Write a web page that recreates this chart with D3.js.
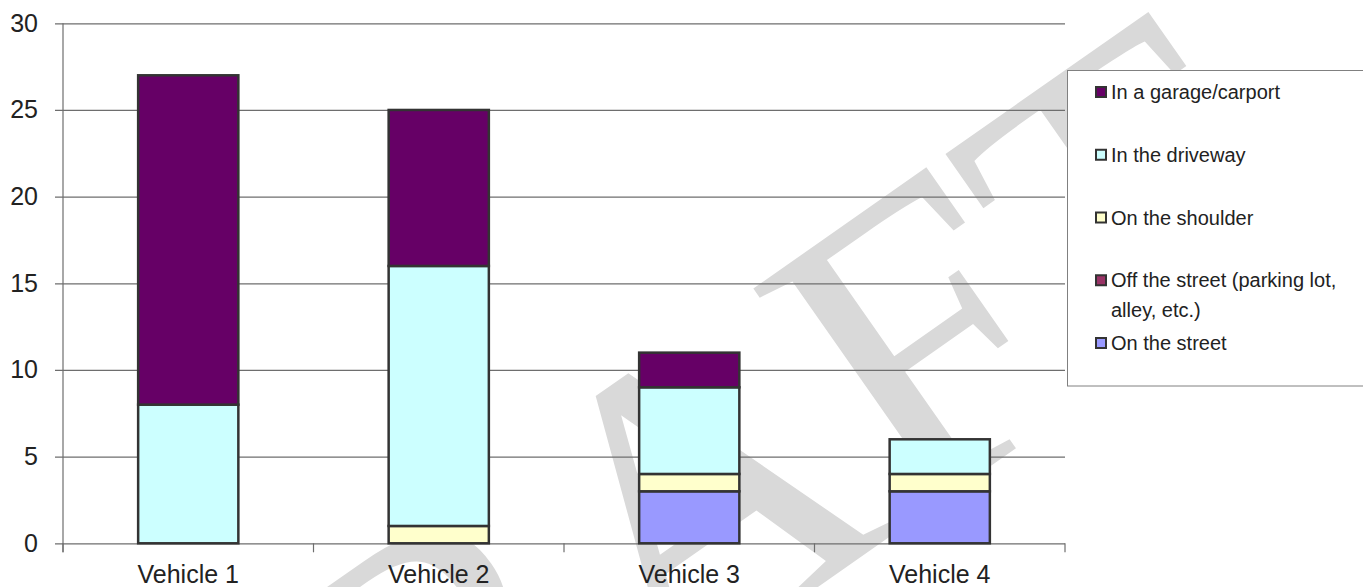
<!DOCTYPE html>
<html>
<head>
<meta charset="utf-8">
<script src="https://cdn.jsdelivr.net/npm/d3@7"></script>
<style>
  html, body { margin: 0; padding: 0; background: #fff; }
  svg { display: block; font-family: "Liberation Sans", Arial, sans-serif; }
</style>
</head>
<body>
<div id="chart"></div>
<script>
// ── Data ───────────────────────────────────────────────────────────────────
const categories = ["Vehicle 1", "Vehicle 2", "Vehicle 3", "Vehicle 4"];
// stacked bottom → top
const seriesNames = [
  "On the street",
  "Off the street (parking lot, alley, etc.)",
  "On the shoulder",
  "In the driveway",
  "In a garage/carport",
];
const onStreet   = [0, 0, 3, 3];
const offStreet  = [0, 0, 0, 0];
const onShoulder = [0, 1, 1, 1];
const inDriveway = [8, 15, 5, 2];
const inGarage   = [19, 9, 2, 0];
const yTicks = [0, 5, 10, 15, 20, 25, 30];

const seriesColors = ["#9999ff", "#993366", "#ffffcc", "#ccffff", "#660066"];
const legendLines = [
  ["In a garage/carport"],
  ["In the driveway"],
  ["On the shoulder"],
  ["Off the street (parking lot,", "alley, etc.)"],
  ["On the street"],
];

// ── Layout ─────────────────────────────────────────────────────────────────
const W = 1363, H = 587;
const plot = { left: 63, right: 1065, top: 23.3, bottom: 543.3 };

const svg = d3.select("#chart").append("svg")
  .attr("width", W)
  .attr("height", H);

// watermark, behind everything
svg.append("text")
  .attr("transform", "translate(161,1047) rotate(-35)")
  .attr("font-family", "'Liberation Serif', 'Times New Roman', serif")
  .attr("font-size", 430)
  .attr("fill", "#d9d9d9")
  .text("DRAFT");

const x = d3.scaleBand()
  .domain(categories)
  .range([plot.left, plot.right])
  .paddingInner(0.6)
  .paddingOuter(0.3);

const y = d3.scaleLinear()
  .domain([0, 30])
  .range([plot.bottom, plot.top]);

// ── Grid + y labels ────────────────────────────────────────────────────────
const gy = svg.append("g")
  .attr("transform", `translate(${plot.right},0)`)
  .call(d3.axisLeft(y)
    .tickValues(yTicks)
    .tickSizeInner(plot.right - plot.left + 8)
    .tickSizeOuter(0)
    .tickPadding(17));
gy.select(".domain").remove();
gy.selectAll("line").attr("stroke", "#6e6e6e").attr("stroke-width", 1.2);
gy.selectAll("text")
  .attr("font-size", 25)
  .attr("fill", "#222")
  .attr("font-family", "'Liberation Sans', Arial, sans-serif");

// vertical axis line
svg.append("line")
  .attr("x1", plot.left).attr("x2", plot.left)
  .attr("y1", plot.top).attr("y2", plot.bottom + 9)
  .attr("stroke", "#6e6e6e").attr("stroke-width", 1.2);

// category boundary ticks
const x0 = plot.left;
svg.append("g").selectAll("line")
  .data(d3.range(categories.length + 1))
  .join("line")
  .attr("x1", i => x0 + i * (plot.right - plot.left) / categories.length)
  .attr("x2", i => x0 + i * (plot.right - plot.left) / categories.length)
  .attr("y1", plot.bottom)
  .attr("y2", plot.bottom + 9)
  .attr("stroke", "#6e6e6e").attr("stroke-width", 1.2);

// x labels
const gx = svg.append("g")
  .attr("transform", `translate(0,${plot.bottom})`)
  .call(d3.axisBottom(x).tickSize(0).tickPadding(22));
gx.select(".domain").remove();
gx.selectAll("text")
  .attr("font-size", 25)
  .attr("fill", "#222")
  .attr("font-family", "'Liberation Sans', Arial, sans-serif");

// ── Stacked bars ───────────────────────────────────────────────────────────
const rows = categories.map((c, i) => ({
  cat: c,
  s0: onStreet[i], s1: offStreet[i], s2: onShoulder[i], s3: inDriveway[i], s4: inGarage[i],
}));
const keys = ["s0", "s1", "s2", "s3", "s4"];
const stacked = d3.stack().keys(keys)(rows);

svg.append("g").selectAll("g")
  .data(stacked)
  .join("g")
  .attr("fill", (d, i) => seriesColors[i])
  .selectAll("rect")
  .data(d => d.filter(p => p[1] - p[0] > 0))
  .join("rect")
  .attr("x", d => x(d.data.cat))
  .attr("width", x.bandwidth())
  .attr("y", d => y(d[1]))
  .attr("height", d => y(d[0]) - y(d[1]))
  .attr("stroke", "#333")
  .attr("stroke-width", 2.5);

// ── Legend ─────────────────────────────────────────────────────────────────
const legend = svg.append("g");
legend.append("rect")
  .attr("x", 1067.5).attr("y", 70.5)
  .attr("width", 400).attr("height", 315.5)
  .attr("fill", "#fff")
  .attr("stroke", "#808080").attr("stroke-width", 1);

const legendColors = seriesColors.slice().reverse();
const item = legend.selectAll("g.item")
  .data(legendLines)
  .join("g")
  .attr("class", "item")
  .attr("transform", (d, i) => `translate(1095,${92 + i * 62.75})`);

item.append("rect")
  .attr("x", 1).attr("y", -5)
  .attr("width", 10).attr("height", 10)
  .attr("fill", (d, i) => legendColors[i])
  .attr("stroke", "#333").attr("stroke-width", 2);

item.append("text")
  .attr("x", 16)
  .attr("y", 7)
  .attr("font-size", 20)
  .attr("fill", "#222")
  .selectAll("tspan")
  .data(d => d)
  .join("tspan")
  .attr("x", 16)
  .attr("dy", (d, j) => j === 0 ? 0 : 30)
  .text(d => d);
</script>
</body>
</html>
